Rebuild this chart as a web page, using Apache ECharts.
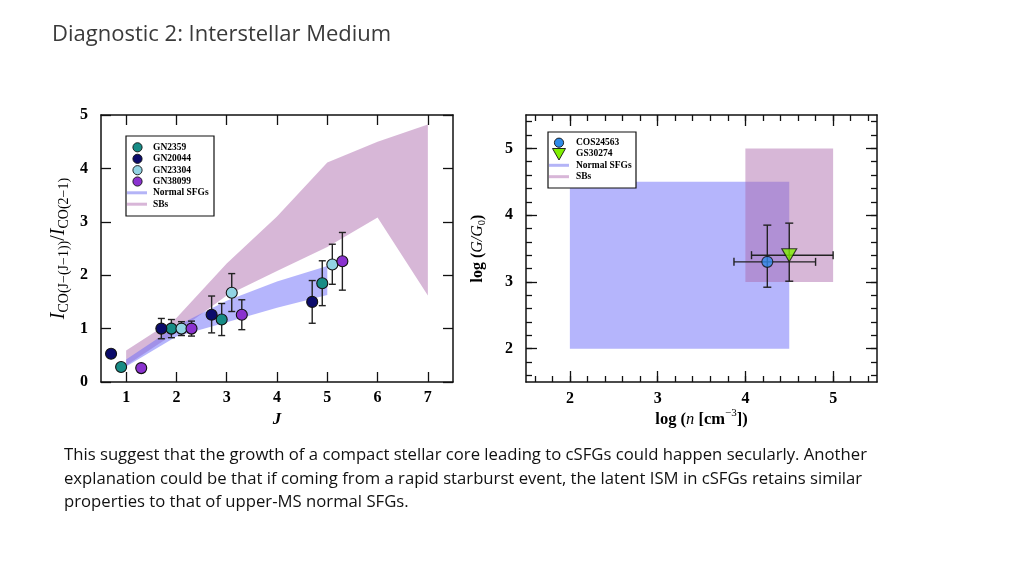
<!DOCTYPE html>
<html>
<head>
<meta charset="utf-8">
<script src="https://cdn.jsdelivr.net/npm/echarts@6/dist/echarts.min.js"></script>
<style>html,body{margin:0;padding:0;background:#fff;}#c{width:1024px;height:576px;}</style>
</head>
<body>
<div id="c"></div>
<script>
// ---------- data: left panel (CO SLED ratios) ----------
const gn2359J   = [0.9, 1.9, 2.9, 4.9];
const gn2359V   = [0.28, 1.0, 1.17, 1.85];
const gn2359Lo  = [null, 0.83, 0.87, 1.43];
const gn2359Hi  = [null, 1.17, 1.47, 2.27];

const gn20044J  = [0.7, 1.7, 2.7, 4.7];
const gn20044V  = [0.53, 1.0, 1.26, 1.5];
const gn20044Lo = [0.46, 0.81, 0.92, 1.1];
const gn20044Hi = [0.60, 1.19, 1.61, 1.9];

const gn23304J  = [2.1, 3.1, 5.1];
const gn23304V  = [1.0, 1.67, 2.2];
const gn23304Lo = [0.87, 1.32, 1.83];
const gn23304Hi = [1.13, 2.03, 2.58];

const gn38099J  = [1.3, 2.3, 3.3, 5.3];
const gn38099V  = [0.26, 1.0, 1.26, 2.26];
const gn38099Lo = [null, 0.86, 0.98, 1.72];
const gn38099Hi = [null, 1.14, 1.54, 2.8];

// bands (J, lower, upper)
const sfgBandJ  = [1, 2, 3, 4, 5];
const sfgBandLo = [0.29, 0.85, 1.12, 1.39, 1.63];
const sfgBandHi = [0.42, 1.05, 1.52, 1.88, 2.17];
const sbBandJ   = [1, 2, 3, 4, 5, 6, 7];
const sbBandLo  = [0.31, 0.93, 1.62, 2.08, 2.53, 3.08, 1.62];
const sbBandHi  = [0.59, 1.2, 2.22, 3.1, 4.11, 4.5, 4.82];

const leftXTicks = [1, 2, 3, 4, 5, 6, 7];
const leftYTicks = [0, 1, 2, 3, 4, 5];

// ---------- data: right panel (PDR) ----------
const cosPoint = [4.25, 3.3];  const cosXErr = [3.87, 4.8]; const cosYErr = [2.92, 3.85];
const gsPoint  = [4.5, 3.4];   const gsXErr  = [4.07, 5.0]; const gsYErr  = [3.01, 3.88];
const sfgBoxX = [2, 4.5]; const sfgBoxY = [2, 4.5];
const sbBoxX  = [4, 5];   const sbBoxY  = [3, 5];

const rightXTicks = [2, 3, 4, 5];
const rightYTicks = [2, 3, 4, 5];
const rightMinor  = [1.6,1.8,2.0,2.2,2.4,2.6,2.8,3.0,3.2,3.4,3.6,3.8,4.0,4.2,4.4,4.6,4.8,5.0,5.2,5.4];

// ---------- styles ----------
const C_GN2359 = '#178c86', C_GN20044 = '#0b0b6b', C_GN23304 = '#92d4e4', C_GN38099 = '#8a32cf';
const C_COS = '#2f8ae8', C_GS = '#80f000';
const SFG_FILL = 'rgba(108,108,250,0.5)', SB_FILL = 'rgba(172,104,172,0.48)';
const SFG_LEG = '#b4b4f7', SB_LEG = '#d8b6d8';
const SERIF = '"Liberation Serif", "DejaVu Serif", serif';
const SANS = '"Open Sans", Lato, sans-serif';

function axis(grid, pos, min, max, ticks, labels, len, line, margin) {
  return {
    type: 'value', gridIndex: grid, position: pos, min: min, max: max,
    axisLine: { show: line, onZero: false, lineStyle: { color: '#111', width: 1.5 } },
    axisTick: { show: true, inside: true, length: len, customValues: ticks, lineStyle: { color: '#111', width: 1.3 } },
    axisLabel: labels ? { show: true, customValues: labels, margin: margin, color: '#000',
                fontFamily: SERIF, fontWeight: 'bold', fontSize: 16 } : { show: false },
    splitLine: { show: false }
  };
}

const xAxes = [
  axis(0, 'bottom', 0.5, 7.5, leftXTicks, leftXTicks, 10, true, 8),
  axis(0, 'top',    0.5, 7.5, leftXTicks, null, 10, true),
  axis(1, 'bottom', 1.5, 5.5, rightXTicks, rightXTicks, 11, true, 9),
  axis(1, 'top',    1.5, 5.5, rightXTicks, null, 11, true),
  axis(1, 'bottom', 1.5, 5.5, rightMinor, null, 6, false),
  axis(1, 'top',    1.5, 5.5, rightMinor, null, 6, false)
];
const yAxes = [
  axis(0, 'left',  0, 5, leftYTicks, leftYTicks, 10, true, 13),
  axis(0, 'right', 0, 5, leftYTicks, null, 10, true),
  axis(1, 'left',  1.5, 5.5, rightYTicks, rightYTicks, 11, true, 13),
  axis(1, 'right', 1.5, 5.5, rightYTicks, null, 11, true),
  axis(1, 'left',  1.5, 5.5, rightMinor, null, 6, false),
  axis(1, 'right', 1.5, 5.5, rightMinor, null, 6, false)
];
xAxes[0].name = 'J';
xAxes[0].nameLocation = 'middle';
xAxes[0].nameGap = 29;
xAxes[0].nameTextStyle = { fontFamily: SERIF, fontStyle: 'italic', fontWeight: 'bold', fontSize: 17, color: '#000' };

xAxes[2].name = '{b|log (}{i|n}{b| [cm}{sup|−3}{b|])}';
xAxes[2].nameLocation = 'middle';
xAxes[2].nameGap = 24;
xAxes[2].nameTextStyle = { color: '#000', rich: {
  b: { fontFamily: SERIF, fontWeight: 'bold', fontSize: 16.5, lineHeight: 20, verticalAlign: 'bottom' },
  i: { fontFamily: SERIF, fontStyle: 'italic', fontSize: 16.5, lineHeight: 20, verticalAlign: 'bottom' },
  sup: { fontFamily: SERIF, fontSize: 11, lineHeight: 10, verticalAlign: 'top' } } };

yAxes[0].name = '{i|I}{s|CO(J−(J−1))}{n|/}{i|I}{s|CO(2−1)}';
yAxes[0].nameLocation = 'middle';
yAxes[0].nameGap = 30;
yAxes[0].nameRotate = 90;
yAxes[0].nameTextStyle = { color: '#000', rich: {
  i: { fontFamily: SERIF, fontStyle: 'italic', fontSize: 20, lineHeight: 22, verticalAlign: 'top' },
  n: { fontFamily: SERIF, fontSize: 20, lineHeight: 22, verticalAlign: 'top' },
  s: { fontFamily: SERIF, fontSize: 14, lineHeight: 13, verticalAlign: 'bottom' } } };

yAxes[2].name = '{b|log (}{i|G/G}{sub|0}{b|)}';
yAxes[2].nameLocation = 'middle';
yAxes[2].nameGap = 38;
yAxes[2].nameRotate = 90;
yAxes[2].nameTextStyle = { color: '#000', rich: {
  b: { fontFamily: SERIF, fontWeight: 'bold', fontSize: 16, lineHeight: 18, verticalAlign: 'top' },
  i: { fontFamily: SERIF, fontStyle: 'italic', fontSize: 16, lineHeight: 18, verticalAlign: 'top' },
  sub: { fontFamily: SERIF, fontSize: 10.5, lineHeight: 10, verticalAlign: 'bottom' } } };

function bandSeries(name, J, lo, hi, fill) {
  return {
    name: name, type: 'custom', xAxisIndex: 0, yAxisIndex: 0, silent: true, z: 1,
    data: [[J[0], lo[0]]],
    renderItem: function (params, api) {
      const pts = [];
      for (let k = 0; k < J.length; k++) pts.push(api.coord([J[k], hi[k]]));
      for (let k = J.length - 1; k >= 0; k--) pts.push(api.coord([J[k], lo[k]]));
      return { type: 'polygon', shape: { points: pts }, style: { fill: fill } };
    }
  };
}
function boxSeries(name, bx, by, fill, z) {
  return {
    name: name, type: 'custom', xAxisIndex: 2, yAxisIndex: 2, silent: true, z: z,
    data: [[bx[0], by[0]]],
    renderItem: function (params, api) {
      const a = api.coord([bx[0], by[1]]), b = api.coord([bx[1], by[0]]);
      return { type: 'rect', shape: { x: a[0], y: a[1], width: b[0] - a[0], height: b[1] - a[1] }, style: { fill: fill } };
    }
  };
}
function errSeries(J, lo, hi) {
  const d = [];
  for (let k = 0; k < J.length; k++) if (lo[k] != null) d.push([J[k], lo[k], hi[k]]);
  return {
    type: 'custom', xAxisIndex: 0, yAxisIndex: 0, silent: true, z: 3, data: d,
    encode: { x: 0, y: [1, 2] },
    renderItem: function (params, api) {
      const x = api.value(0);
      const a = api.coord([x, api.value(1)]), b = api.coord([x, api.value(2)]);
      const w = 3.5, st = { stroke: '#222', lineWidth: 1.4 };
      return { type: 'group', children: [
        { type: 'line', shape: { x1: a[0], y1: a[1], x2: b[0], y2: b[1] }, style: st },
        { type: 'line', shape: { x1: a[0] - w, y1: a[1], x2: a[0] + w, y2: a[1] }, style: st },
        { type: 'line', shape: { x1: b[0] - w, y1: b[1], x2: b[0] + w, y2: b[1] }, style: st } ] };
    }
  };
}
function err2D(pt, xe, ye) {
  return {
    type: 'custom', xAxisIndex: 2, yAxisIndex: 2, silent: true, z: 3,
    data: [[pt[0], pt[1], xe[0], xe[1], ye[0], ye[1]]],
    encode: { x: [0, 2, 3], y: [1, 4, 5] },
    renderItem: function (params, api) {
      const x = api.value(0), y = api.value(1);
      const l = api.coord([api.value(2), y]), r = api.coord([api.value(3), y]);
      const t = api.coord([x, api.value(5)]), b = api.coord([x, api.value(4)]);
      const w = 4, st = { stroke: '#222', lineWidth: 1.4 };
      return { type: 'group', children: [
        { type: 'line', shape: { x1: l[0], y1: l[1], x2: r[0], y2: r[1] }, style: st },
        { type: 'line', shape: { x1: l[0], y1: l[1] - w, x2: l[0], y2: l[1] + w }, style: st },
        { type: 'line', shape: { x1: r[0], y1: r[1] - w, x2: r[0], y2: r[1] + w }, style: st },
        { type: 'line', shape: { x1: t[0], y1: t[1], x2: b[0], y2: b[1] }, style: st },
        { type: 'line', shape: { x1: t[0] - w, y1: t[1], x2: t[0] + w, y2: t[1] }, style: st },
        { type: 'line', shape: { x1: b[0] - w, y1: b[1], x2: b[0] + w, y2: b[1] }, style: st } ] };
    }
  };
}
function pts(name, J, V, color) {
  return {
    name: name, type: 'scatter', xAxisIndex: 0, yAxisIndex: 0, z: 5,
    symbol: 'circle', symbolSize: 11,
    data: J.map((j, k) => [j, V[k]]),
    itemStyle: { color: color, borderColor: '#111', borderWidth: 1.1, opacity: 1 }
  };
}

const series = [
  bandSeries('SBs', sbBandJ, sbBandLo, sbBandHi, SB_FILL),
  bandSeries('Normal SFGs', sfgBandJ, sfgBandLo, sfgBandHi, SFG_FILL),
  errSeries(gn2359J, gn2359Lo, gn2359Hi),
  errSeries(gn20044J, gn20044Lo, gn20044Hi),
  errSeries(gn23304J, gn23304Lo, gn23304Hi),
  errSeries(gn38099J, gn38099Lo, gn38099Hi),
  pts('GN2359', gn2359J, gn2359V, C_GN2359),
  pts('GN20044', gn20044J, gn20044V, C_GN20044),
  pts('GN23304', gn23304J, gn23304V, C_GN23304),
  pts('GN38099', gn38099J, gn38099V, C_GN38099),
  boxSeries('Normal SFGs', sfgBoxX, sfgBoxY, SFG_FILL, 1),
  boxSeries('SBs', sbBoxX, sbBoxY, SB_FILL, 2),
  err2D(cosPoint, cosXErr, cosYErr),
  err2D(gsPoint, gsXErr, gsYErr),
  { name: 'COS24563', type: 'scatter', xAxisIndex: 2, yAxisIndex: 2, z: 5, symbol: 'circle', symbolSize: 11,
    data: [cosPoint], itemStyle: { color: C_COS, borderColor: '#111', borderWidth: 1.1 } },
  { name: 'GS30274', type: 'scatter', xAxisIndex: 2, yAxisIndex: 2, z: 6, symbol: 'triangle', symbolRotate: 180, symbolSize: [15, 13],
    data: [gsPoint], itemStyle: { color: C_GS, borderColor: '#111', borderWidth: 1.1 } }
];

// ---------- legends (drawn as graphics) ----------
const legFont = 'bold 9.5px ' + SERIF;
function legText(x, y, t) { return { type: 'text', x: x, y: y, style: { text: t, font: legFont, fill: '#000', verticalAlign: 'middle' }, z: 20 }; }
function legDot(x, y, c) { return { type: 'circle', shape: { cx: x, cy: y, r: 4.6 }, style: { fill: c, stroke: '#111', lineWidth: 0.9 }, z: 20 }; }
function legBar(x1, x2, y, c) { return { type: 'line', shape: { x1: x1, y1: y, x2: x2, y2: y }, style: { stroke: c, lineWidth: 3 }, z: 20 }; }

const graphic = [
  { type: 'text', left: 52, top: 24, style: { text: 'Diagnostic 2: Interstellar Medium', font: '22px ' + SANS, fill: '#3a3a3a' } },
  { type: 'text', left: 64, top: 447, style: { text: 'This suggest that the growth of a compact stellar core leading to cSFGs could happen secularly. Another', font: '16.7px ' + SANS, fill: '#111' } },
  { type: 'text', left: 64, top: 471, style: { text: 'explanation could be that if coming from a rapid starburst event, the latent ISM in cSFGs retains similar', font: '16.7px ' + SANS, fill: '#111' } },
  { type: 'text', left: 64, top: 494, style: { text: 'properties to that of upper-MS normal SFGs.', font: '16.7px ' + SANS, fill: '#111' } },
  // left legend
  { type: 'rect', shape: { x: 126, y: 136, width: 88, height: 80 }, style: { fill: '#fff', stroke: '#111', lineWidth: 1.2 }, z: 19 },
  legDot(137.5, 147.3, C_GN2359), legText(153, 147.3, 'GN2359'),
  legDot(137.5, 158.8, C_GN20044), legText(153, 158.8, 'GN20044'),
  legDot(137.5, 170.2, C_GN23304), legText(153, 170.2, 'GN23304'),
  legDot(137.5, 181.5, C_GN38099), legText(153, 181.5, 'GN38099'),
  legBar(127, 147, 192.8, SFG_LEG), legText(153, 192.8, 'Normal SFGs'),
  legBar(127, 147, 204.2, SB_LEG), legText(153, 204.2, 'SBs'),
  // right legend
  { type: 'rect', shape: { x: 548, y: 132, width: 88, height: 56 }, style: { fill: '#fff', stroke: '#111', lineWidth: 1.2 }, z: 19 },
  legDot(559, 142.7, C_COS), legText(576, 142.7, 'COS24563'),
  { type: 'polygon', shape: { points: [[552.5, 148.5], [565.5, 148.5], [559, 160]] }, style: { fill: C_GS, stroke: '#111', lineWidth: 0.9 }, z: 20 },
  legText(576, 154, 'GS30274'),
  legBar(549, 569, 165.3, SFG_LEG), legText(576, 165.3, 'Normal SFGs'),
  legBar(549, 569, 176.7, SB_LEG), legText(576, 176.7, 'SBs')
];

const chart = echarts.init(document.getElementById('c'), null, { renderer: 'canvas' });
chart.setOption({
  animation: false,
  backgroundColor: '#fff',
  grid: [
    { left: 101, top: 115, width: 352, height: 267 },
    { left: 526, top: 115, width: 351, height: 267 }
  ],
  xAxis: xAxes,
  yAxis: yAxes,
  series: series,
  graphic: graphic
});
</script>
</body>
</html>
